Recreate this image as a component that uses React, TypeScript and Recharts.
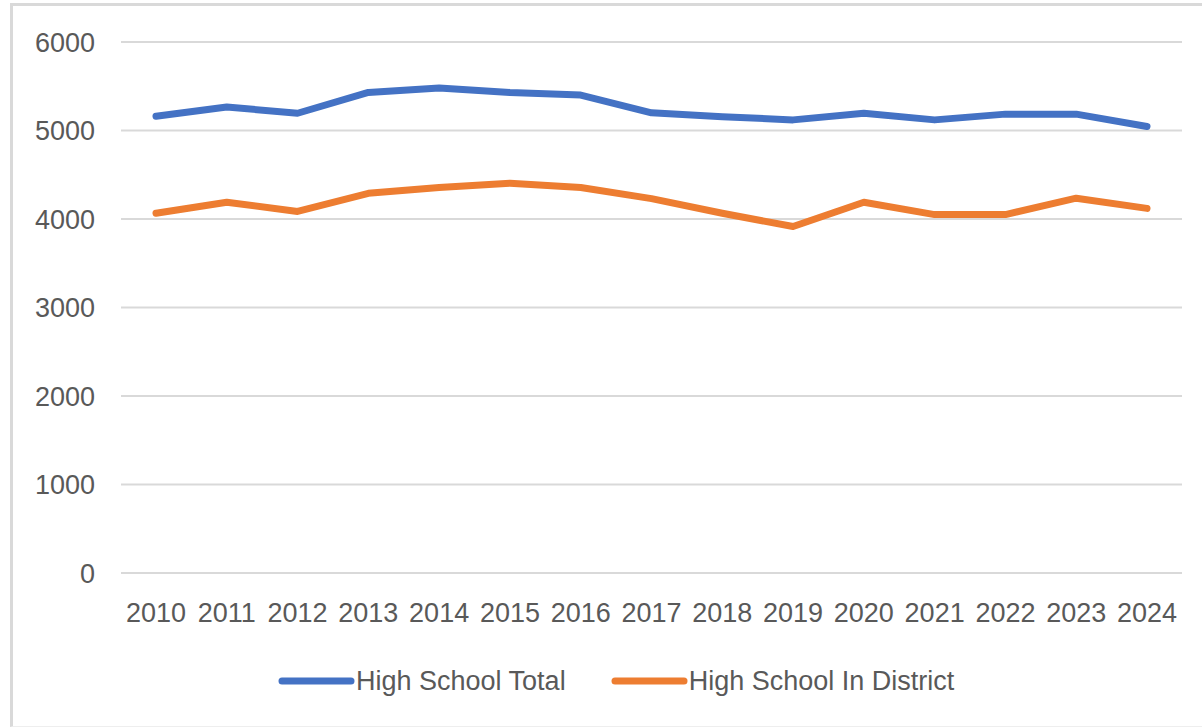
import React from 'react';
import { LineChart, Line, XAxis, YAxis, CartesianGrid, Legend } from 'recharts';

const years = ['2010', '2011', '2012', '2013', '2014', '2015', '2016', '2017', '2018', '2019', '2020', '2021', '2022', '2023', '2024'];
const highSchoolTotal = [5160, 5265, 5195, 5430, 5480, 5430, 5400, 5200, 5155, 5120, 5195, 5120, 5185, 5185, 5045];
const highSchoolInDistrict = [4065, 4190, 4085, 4290, 4355, 4405, 4355, 4230, 4065, 3915, 4190, 4050, 4050, 4235, 4120];
const yTicks = [0, 1000, 2000, 3000, 4000, 5000, 6000];

const series = [
  { key: 'total', name: 'High School Total', color: '#4472C4' },
  { key: 'inDistrict', name: 'High School In District', color: '#ED7D31' },
];

const data = years.map((year, i) => ({
  year,
  total: highSchoolTotal[i],
  inDistrict: highSchoolInDistrict[i],
}));

const FONT = '"Liberation Sans", Arial, sans-serif';
const TEXT = '#595959';

function LegendContent() {
  return (
    <div style={{ display: 'flex', alignItems: 'center', height: 34, paddingLeft: 274, fontFamily: FONT, fontSize: 27, color: TEXT }}>
      {series.map((s, i) => (
        <div key={s.key} style={{ display: 'flex', alignItems: 'center', marginRight: i === 0 ? 41 : 0 }}>
          <svg width={82} height={14}>
            <line x1={8} y1={7} x2={77} y2={7} stroke={s.color} strokeWidth={7} strokeLinecap="round" />
          </svg>
          <span>{s.name}</span>
        </div>
      ))}
    </div>
  );
}

export default function App() {
  return (
    <div style={{ position: 'absolute', left: 0, top: 0, width: 1202, height: 727, background: '#fff', overflow: 'hidden' }}>
      <div
        style={{
          position: 'absolute',
          left: 10,
          top: 3,
          width: 1200,
          height: 720,
          borderLeft: '3px solid #d9d9d9',
          borderTop: '3px solid #d9d9d9',
          borderBottom: '1px solid #eeeeee',
          pointerEvents: 'none',
        }}
      />
      <LineChart width={1202} height={727} data={data} margin={{ top: 42, right: 20, bottom: 60, left: 0 }}>
        <CartesianGrid vertical={false} stroke="#d9d9d9" strokeWidth={2} />
        <XAxis
          dataKey="year"
          height={60}
          padding={{ left: 35, right: 35 }}
          tickLine={false}
          tickSize={0}
          tickMargin={30}
          axisLine={{ stroke: '#d9d9d9', strokeWidth: 2 }}
          tick={{ fill: TEXT, fontSize: 27, fontFamily: FONT }}
          interval={0}
        />
        <YAxis
          width={121}
          domain={[0, 6000]}
          ticks={yTicks}
          axisLine={false}
          tickLine={false}
          tickSize={0}
          tickMargin={26}
          tick={{ fill: TEXT, fontSize: 27, fontFamily: FONT }}
        />
        <Legend
          verticalAlign="bottom"
          content={<LegendContent />}
          wrapperStyle={{ left: 0, top: 664, bottom: 'auto', width: 1202 }}
        />
        {series.map((s) => (
          <Line
            key={s.key}
            type="linear"
            dataKey={s.key}
            name={s.name}
            stroke={s.color}
            strokeWidth={7}
            strokeLinecap="round"
            strokeLinejoin="round"
            dot={false}
            activeDot={false}
            isAnimationActive={false}
          />
        ))}
      </LineChart>
    </div>
  );
}
